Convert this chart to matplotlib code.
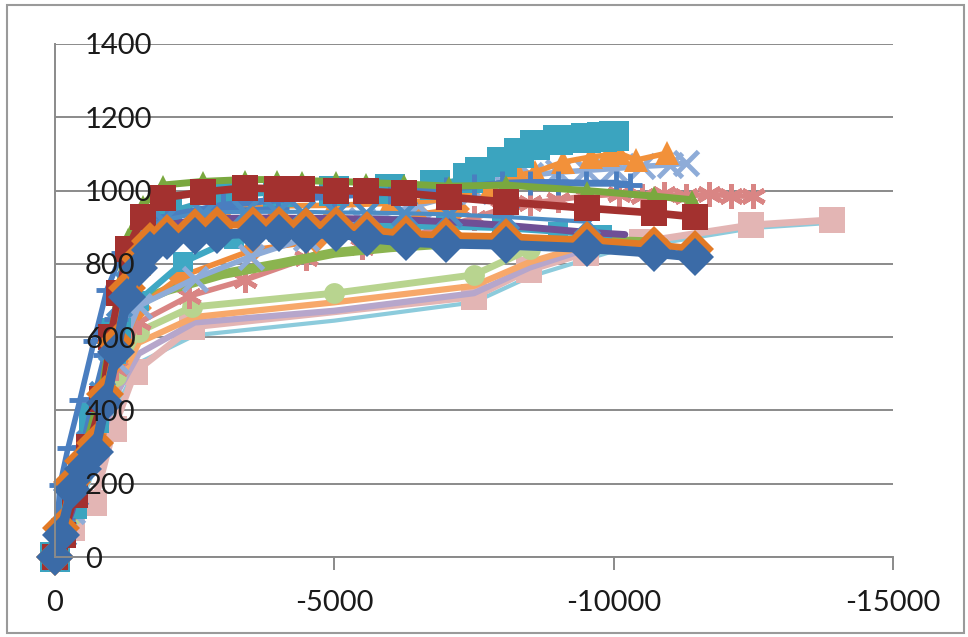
import matplotlib
matplotlib.use("Agg")
import matplotlib.pyplot as plt
from matplotlib.patches import Rectangle

plt.rcParams['font.family'] = ['Lato', 'DejaVu Sans']

# ---- series data (x = displacement, y = load) ----
x_cyan_thin = [0, -300, -700, -1100, -1500, -2500, -5000, -7500, -8500, -10000, -12500, -13900]
y_cyan_thin = [0, 80, 240, 410, 530, 605, 645, 695, 765, 835, 898, 912]

x_pink_sq = [0, -300, -700, -1050, -1430, -2460, -7500, -8480, -9500, -10500, -12460, -13900]
y_pink_sq = [0, 80, 147, 350, 505, 628, 710, 783, 830, 860, 906, 920]

x_lavender = [0, -300, -700, -1100, -1500, -2500, -5000, -7500, -8500, -9500]
y_lavender = [0, 95, 265, 445, 555, 640, 672, 720, 790, 840]

x_lt_orange = [0, -300, -700, -1100, -1500, -2500, -5000, -7500, -8500, -9500]
y_lt_orange = [0, 105, 285, 465, 585, 655, 695, 740, 805, 850]

x_lt_green = [0, -300, -700, -1100, -1500, -2446, -5000, -7500, -8500, -9500]
y_lt_green = [0, 115, 305, 495, 615, 682, 720, 770, 840, 870]

x_salmon = [0, -300, -700, -1100, -1500, -2400, -3400, -4500, -5500, -6500, -7500, -8000,
            -8500, -9000, -9500, -10100, -10500, -10900, -11300, -11700, -12100, -12500]
y_salmon = [0, 125, 325, 515, 640, 712, 756, 815, 845, 880, 925, 950,
            965, 975, 985, 990, 986, 990, 985, 990, 986, 984]

x_green_mid = [0, -300, -700, -1100, -1400, -2000, -3000, -4000, -5000, -6000, -7000, -8000, -9000, -10000, -10900]
y_green_mid = [0, 135, 355, 555, 690, 728, 772, 800, 830, 845, 855, 860, 862, 862, 858]

x_orange_mid = [0, -300, -700, -1100, -1500, -2232, -3536, -4679, -5600, -6500, -7200]
y_orange_mid = [0, 125, 335, 535, 680, 764, 838, 862, 900, 935, 950]

x_teal_mid = [0, -300, -700, -1100, -1500, -2300, -3200, -4000, -5000, -6000, -7000, -8000, -9000, -9800]
y_teal_mid = [0, 135, 355, 555, 700, 805, 868, 888, 898, 902, 902, 898, 888, 878]

x_ltblue_x = [0, -300, -700, -1100, -1500, -2500, -3500, -4500, -5500, -6500, -7500, -8000,
              -8500, -9000, -9500, -10000, -10500, -11000, -11300]
y_ltblue_x = [0, 125, 335, 535, 685, 760, 820, 870, 920, 960, 1000, 1020,
              1042, 1050, 1055, 1060, 1066, 1070, 1075]

x_orange_top = [0, -300, -700, -1100, -1500, -2000, -3000, -4000, -5000, -6000, -7000, -7800,
                -8300, -8600, -9100, -9600, -9900, -10100, -10400, -10950]
y_orange_top = [0, 140, 370, 600, 800, 900, 945, 958, 960, 965, 975, 1010,
                1042, 1051, 1078, 1092, 1097, 1102, 1083, 1102]

x_teal_top = [0, -300, -700, -1100, -1500, -2000, -3000, -4000, -5000, -6000, -6800, -7400,
              -7600, -8000, -8300, -8600, -9000, -9500, -9800, -10000]
y_teal_top = [0, 145, 380, 610, 825, 940, 985, 995, 1000, 1005, 1015, 1035,
              1051, 1078, 1102, 1124, 1138, 1143, 1146, 1150]

x_blue_dash = [0, -89, -232, -446, -700, -929, -1200, -1600, -2200, -3000, -4000]
y_blue_dash = [0, 196, 297, 428, 590, 729, 830, 900, 935, 945, 950]

x_blue_plus = [0, -150, -300, -500, -700, -900, -1100, -1300, -1600, -2000, -3000, -4000, -5000,
               -6000, -7000, -7500, -8000, -8500, -9000, -9500, -10036, -10300]
y_blue_plus = [0, 100, 200, 300, 430, 550, 650, 740, 850, 930, 960, 975, 985,
               995, 1005, 1012, 1020, 1022, 1022, 1020, 1020, 1015]

x_purple = [0, -300, -700, -1000, -1300, -1571, -1929, -2643, -3393, -3982, -4429, -5036,
            -5571, -6250, -7054, -8071, -9000, -9518, -10200]
y_purple = [0, 125, 335, 500, 700, 860, 905, 922, 925, 925, 924, 924,
            922, 920, 915, 905, 893, 886, 880]

x_green_tri = [0, -150, -350, -600, -850, -1000, -1150, -1300, -1571, -1929, -2643, -3393, -3982,
               -4429, -5036, -5571, -6250, -7054, -8071, -9518, -10714, -11400]
y_green_tri = [0, 75, 190, 330, 470, 600, 740, 870, 960, 1015, 1025, 1030, 1030,
               1027, 1025, 1022, 1018, 1012, 1015, 1000, 985, 975]

x_steel_x = [0, -150, -350, -600, -850, -1000, -1150, -1300, -1571, -1929, -2643, -3393, -3982,
             -4429, -5036, -5571, -6250, -7054, -8071, -9518]
y_steel_x = [0, 65, 175, 310, 445, 570, 690, 800, 880, 920, 940, 942, 942,
             942, 940, 940, 938, 935, 928, 915]

x_red_sq = [0, -150, -350, -600, -850, -1000, -1150, -1300, -1571, -1929, -2643, -3393, -3982,
            -4429, -5036, -5571, -6250, -7054, -8071, -9518, -10714, -11464]
y_red_sq = [0, 60, 170, 300, 430, 600, 720, 840, 928, 980, 996, 1007, 1005,
            1003, 1000, 998, 993, 982, 969, 952, 939, 928]

x_orange_zz = [0, -100, -300, -500, -714, -900, -1100, -1286, -1500, -1700, -2000, -2500, -2893,
               -3536, -4018, -4500, -5036, -5589, -6286, -7000, -8071, -9518, -10714, -11464]
y_orange_zz = [0, 80, 205, 262, 310, 445, 585, 735, 815, 862, 885, 900, 905,
               907, 906, 903, 906, 893, 882, 877, 874, 865, 852, 841]

x_navy_dia = [0, -100, -300, -500, -714, -900, -1100, -1286, -1500, -1700, -2000, -2500, -2893,
              -3536, -4018, -4500, -5036, -5589, -6286, -7000, -8071, -9518, -10714, -11464]
y_navy_dia = [0, 60, 183, 240, 287, 420, 560, 710, 790, 838, 862, 875, 880,
              884, 884, 880, 884, 870, 860, 855, 852, 843, 830, 819]

y_ticks = [0, 200, 400, 600, 800, 1000, 1200, 1400]
x_ticks = [0, -5000, -10000, -15000]

# ---- figure ----
W, H, DPI = 968, 637, 100
fig = plt.figure(figsize=(W / DPI, H / DPI), dpi=DPI)
fig.patches.append(Rectangle((7 / W, 4 / H), (W - 11) / W, (H - 9) / H,
                             transform=fig.transFigure, fill=False,
                             edgecolor='#9a9a9a', linewidth=1.5))

rect = [55 / W, (H - 557) / H, (893 - 55) / W, (557 - 44) / H]
ax = fig.add_axes(rect)

series = [
    (x_cyan_thin, y_cyan_thin, '#8ccbdc', None, 0, 3.0),
    (x_pink_sq, y_pink_sq, '#e3b5b4', 's', 19, 5.0),
    (x_lavender, y_lavender, '#b6a6cb', None, 0, 4.5),
    (x_lt_orange, y_lt_orange, '#f7a86a', None, 0, 4.5),
    (x_lt_green, y_lt_green, '#b8d48f', 'o', 15, 5.0),
    (x_salmon, y_salmon, '#d98584', (6, 2, 0), 18, 4.0),
    (x_green_mid, y_green_mid, '#8bb44f', None, 0, 7.0),
    (x_orange_mid, y_orange_mid, '#f08c3c', 'D', 13, 4.0),
    (x_teal_mid, y_teal_mid, '#3fa8c4', 's', 15, 4.5),
    (x_ltblue_x, y_ltblue_x, '#8eacd8', 'x', 17, 4.0),
    (x_orange_top, y_orange_top, '#f2913a', '^', 17, 4.0),
    (x_teal_top, y_teal_top, '#3ba4bf', 's', 21, 4.0),
    (x_blue_dash, y_blue_dash, '#4a7ec0', '_', 16, 4.0),
    (x_blue_plus, y_blue_plus, '#4a7ec0', '+', 17, 5.0),
    (x_purple, y_purple, '#6f4f96', None, 0, 5.0),
    (x_green_tri, y_green_tri, '#7aa83f', '^', 14, 5.0),
    (x_steel_x, y_steel_x, '#4d8cc4', 'x', 17, 3.0),
    (x_red_sq, y_red_sq, '#a3312f', 's', 19, 5.5),
    (x_orange_zz, y_orange_zz, '#e27a26', 'D', 19, 5.0),
    (x_navy_dia, y_navy_dia, '#3b6ba7', 'D', 19, 7.0),
]

stroked = ('x', '+', '_', (6, 2, 0))
for xs, ys, color, marker, ms, lw in series:
    ax.plot(xs, ys, color=color, linewidth=lw, marker=marker, markersize=ms,
            markeredgewidth=3.5 if marker in stroked else 0,
            markerfacecolor=color, markeredgecolor=color, clip_on=False,
            solid_joinstyle='round', solid_capstyle='round')

ax.set_xlim(0, -15000)
ax.set_ylim(0, 1400)
ax.set_xticks(x_ticks)
ax.set_xticklabels([str(v) for v in x_ticks])
ax.set_yticks(y_ticks)
ax.tick_params(axis='y', length=0, labelleft=False)

ax.grid(axis='y', color='#8a8a8a', linewidth=1.4)
ax.set_axisbelow(True)
for side in ('top', 'right'):
    ax.spines[side].set_visible(False)
for side in ('left', 'bottom'):
    ax.spines[side].set_color('#8a8a8a')
    ax.spines[side].set_linewidth(1.4)

ax.tick_params(axis='x', direction='out', length=9, width=1.4, color='#8a8a8a',
               labelsize=21, labelcolor='#1a1a1a', pad=15)

# value labels of the vertical axis sit on top of the curves
lab_ax = fig.add_axes(rect, frameon=False)
lab_ax.patch.set_visible(False)
lab_ax.set_ylim(0, 1400)
lab_ax.set_xticks([])
lab_ax.set_yticks(y_ticks)
lab_ax.set_yticklabels([str(v) for v in y_ticks])
lab_ax.tick_params(axis='y', length=0, labelsize=21, labelcolor='#1a1a1a', pad=-21.6)
for lab in lab_ax.get_yticklabels():
    lab.set_horizontalalignment('left')

fig.savefig('out.png', dpi=DPI)
